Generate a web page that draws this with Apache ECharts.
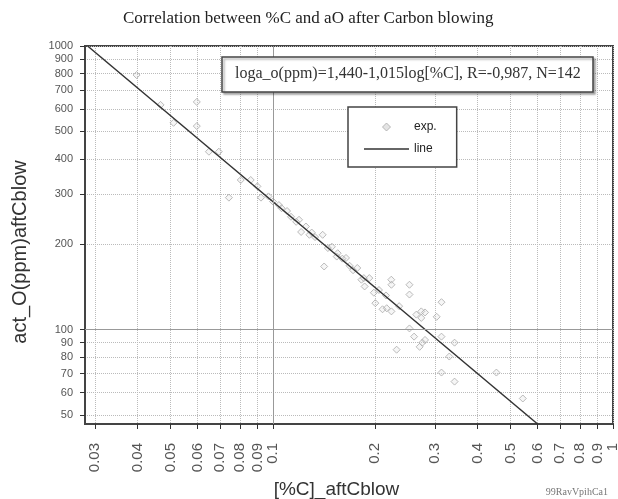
<!DOCTYPE html>
<html><head><meta charset="utf-8">
<script src="https://cdn.jsdelivr.net/npm/echarts@6/dist/echarts.min.js"></script>
<style>html,body{margin:0;padding:0;background:#fff}#c{width:618px;height:499px}</style>
</head><body><div id="c"></div>
<script>
const titleText = 'Correlation between %C and aO after Carbon blowing';
const equationText = 'loga_o(ppm)=1,440-1,015log[%C], R=-0,987, N=142';
const xName = '[%C]_aftCblow';
const yName = 'act_O(ppm)aftCblow';
const footText = '99RavVpihCa1';
const xTicks = [0.03,0.04,0.05,0.06,0.07,0.08,0.09,0.1,0.2,0.3,0.4,0.5,0.6,0.7,0.8,0.9,1];
const xTickLabels = ['0.03','0.04','0.05','0.06','0.07','0.08','0.09','0.1','0.2','0.3','0.4','0.5','0.6','0.7','0.8','0.9','1'];
const yTicks = [50,60,70,80,90,100,200,300,400,500,600,700,800,900,1000];
const yTickLabels = ['50','60','70','80','90','100','200','300','400','500','600','700','800','900','1000'];
const expC = [0.0397,0.0597,0.0597,0.0467,0.051,0.0648,0.0693,0.0804,0.086,0.0742,0.0922,0.1041,0.1193,0.121,0.125,0.128,0.140,0.1414,0.149,0.154,0.164,0.177,0.182,0.186,0.192,0.198,0.2,0.2228,0.223,0.252,0.252,0.216,0.235,0.21,0.223,0.264,0.273,0.28,0.273,0.313,0.303,0.252,0.26,0.313,0.342,0.231,0.275,0.27,0.28,0.33,0.313,0.454,0.342,0.543,0.09,0.097,0.1,0.106,0.11,0.113,0.117,0.13,0.133,0.145,0.155,0.16,0.168,0.172,0.185,0.205,0.215];
const expO = [790,635,522,620,536,424,424,337,337,292,292,275,244,221,231,216,216,167,196,181,179,165,150,142,152,135,124,150,144,144,133,119,121,118,116,113,116,115,110,125,111,101,94.5,94.5,90,85,90,87,92,80.4,70.6,70.6,65.6,57.2,320,295,283,268,262,250,240,220,212,194,186,178,168,162,152,138,132];
const lineC = [0.0285, 0.6];
const lineO = [1000, 46.5];
const refX = 0.1;
const refY = 100;

function lab(ticks, labels){
  return v => { let b=0, d=1e9; ticks.forEach((t,i)=>{const e=Math.abs(Math.log(t)-Math.log(v)); if(e<d){d=e;b=i;}}); return labels[b]; };
}
const chart = echarts.init(document.getElementById('c'), null, {renderer:'canvas'});
chart.setOption({
  animation:false,
  backgroundColor:'#fff',
  title:[
    {text:titleText, left:118, top:5, textStyle:{fontFamily:'Liberation Serif', fontSize:17, fontWeight:'normal', color:'#222'}},
    {text:equationText, left:222, top:57, padding:[9,13,10,13], borderColor:'#444', borderWidth:1.5,
     shadowColor:'rgba(0,0,0,0.3)', shadowOffsetX:2, shadowOffsetY:2, shadowBlur:2, backgroundColor:'#fff',
     textStyle:{fontFamily:'Liberation Serif', fontSize:16, fontWeight:'normal', color:'#333'}},
    {text:footText, right:5, top:482, textStyle:{fontFamily:'Liberation Serif', fontSize:10, fontWeight:'normal', color:'#777'}}
  ],
  legend:{
    data:[
      {name:'exp.', icon:'path://M4,0 L8,4 L4,8 L0,4 Z', itemStyle:{color:'#ddd', borderColor:'#aaa', borderWidth:1}},
      {name:'line', icon:'path://M0,3.3 L45,3.3 L45,4.7 L0,4.7 Z', itemStyle:{color:'#333', borderWidth:0}}
    ],
    orient:'vertical', left:348, top:107, padding:[14,20,12,16], itemGap:10,
    itemWidth:45, itemHeight:8, borderColor:'#444', borderWidth:1.5, backgroundColor:'#fff',
    textStyle:{fontFamily:'Liberation Sans', fontSize:12, color:'#222'}
  },
  grid:{left:85, right:5, top:46, bottom:75, show:true, borderColor:'#444', borderWidth:2, outerBoundsMode:'none', containLabel:false},
  xAxis:{
    type:'log', logBase:10, min:0.028, max:1,
    name:xName, nameLocation:'middle', nameGap:50,
    nameTextStyle:{fontFamily:'Liberation Sans', fontSize:19, color:'#333', padding:[0,25,0,0]},
    axisLine:{lineStyle:{color:'#444', width:2}},
    axisTick:{customValues:xTicks, length:5, lineStyle:{color:'#333'}},
    axisLabel:{customValues:xTicks, rotate:90, margin:19, formatter:lab(xTicks,xTickLabels), fontFamily:'Liberation Sans', fontSize:15, color:'#555'},
    splitLine:{show:true, lineStyle:{type:'dotted', color:'#bbb'}},
    minorTick:{show:false}, minorSplitLine:{show:false}
  },
  yAxis:{
    type:'log', logBase:10, min:46.5, max:1000,
    name:yName, nameLocation:'middle', nameGap:55,
    nameTextStyle:{fontFamily:'Liberation Sans', fontSize:20, color:'#333', padding:[0,34,0,0]},
    axisLine:{lineStyle:{color:'#444', width:2}},
    axisTick:{customValues:yTicks, length:5, lineStyle:{color:'#333'}},
    axisLabel:{customValues:yTicks, margin:12, formatter:lab(yTicks,yTickLabels), fontFamily:'Liberation Sans', fontSize:11, color:'#555'},
    splitLine:{show:true, lineStyle:{type:'dotted', color:'#bbb'}},
    minorTick:{show:false}, minorSplitLine:{show:false}
  },
  series:[
    {name:'exp.', type:'scatter', symbol:'diamond', symbolSize:7,
     itemStyle:{color:'rgba(210,210,210,0.25)', borderColor:'#aaa', borderWidth:1},
     data:expC.map((c,i)=>[c,expO[i]]), z:3},
    {name:'line', type:'line', symbol:'none', showSymbol:false,
     lineStyle:{color:'#333', width:1.5}, itemStyle:{color:'#333'},
     data:lineC.map((c,i)=>[c,lineO[i]]), z:4,
     markLine:{silent:true, symbol:'none', label:{show:false},
       lineStyle:{type:'solid', color:'#999', width:1},
       data:[{xAxis:refX},{yAxis:refY}]}}
  ]
});
</script></body></html>
